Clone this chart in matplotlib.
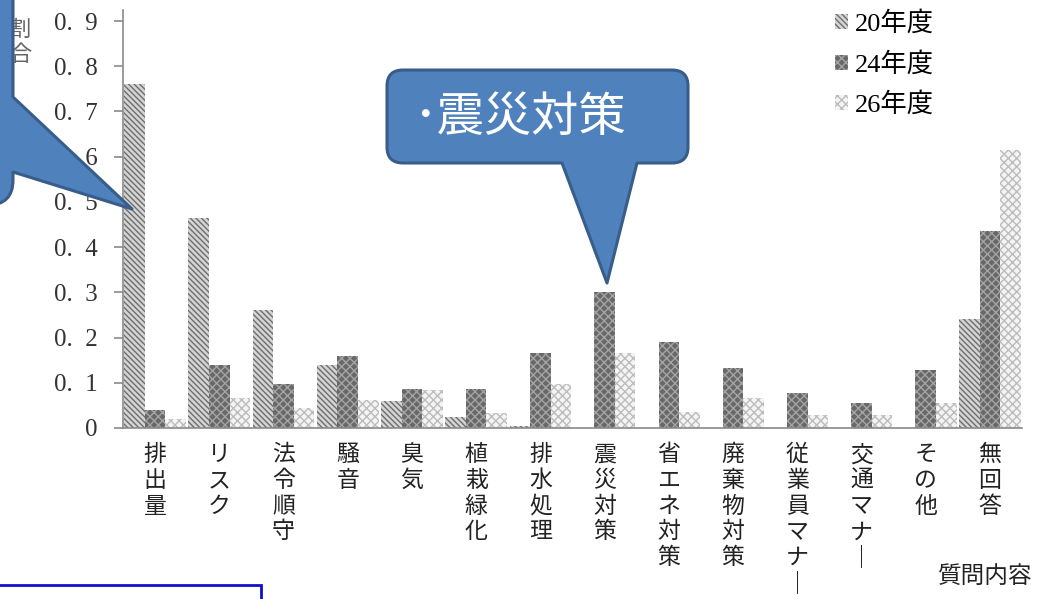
import numpy as np
import matplotlib
matplotlib.use("Agg")
import matplotlib.pyplot as plt
from matplotlib.path import Path
from matplotlib.patches import PathPatch, Rectangle, Patch
from matplotlib.transforms import Affine2D

plt.rcParams['font.family'] = ['Noto Sans CJK JP', 'DejaVu Sans']
plt.rcParams['hatch.linewidth'] = 1.0

categories = ['排出量', 'リスク', '法令順守', '騒音', '臭気', '植栽緑化', '排水処理',
              '震災対策', '省エネ対策', '廃棄物対策', '従業員マナー', '交通マナー', 'その他', '無回答']
y20 = [0.76, 0.465, 0.26, 0.14, 0.06, 0.025, 0.004, 0, 0, 0, 0, 0, 0, 0.24]
y24 = [0.04, 0.14, 0.097, 0.16, 0.087, 0.087, 0.165, 0.30, 0.19, 0.133, 0.077, 0.055, 0.128, 0.435]
y26 = [0.02, 0.066, 0.044, 0.063, 0.083, 0.033, 0.098, 0.165, 0.035, 0.066, 0.029, 0.029, 0.055, 0.615]
series = ['20年度', '24年度', '26年度']
yticks = [0, 0.1, 0.2, 0.3, 0.4, 0.5, 0.6, 0.7, 0.8, 0.9]
ytick_labels = ['0', '0.  1', '0.  2', '0.  3', '0.  4', '0.  5', '0.  6', '0.  7', '0.  8', '0.  9']

W, H = 1037, 599
fig = plt.figure(figsize=(W / 100, H / 100), dpi=100)
ax = fig.add_axes([123 / W, 1 - 428 / H, 899 / W, (428 - 9.7) / H])

styles = [
    dict(facecolor='#d4d4d4', edgecolor='#6e6e6e', hatch='\\\\\\\\\\\\'),
    dict(facecolor='#686868', edgecolor='#a4a4a4', hatch='xxxx'),
    dict(facecolor='#f4f4f4', edgecolor='#bcbcbc', hatch='xxxx'),
]
x = np.arange(len(categories))
bw = 0.32
for k, vals in enumerate([y20, y24, y26]):
    ax.bar(x + (k - 1) * bw, vals, width=bw, linewidth=0, **styles[k])

ax.set_xlim(-0.5, 13.5)
ax.set_ylim(0, 0.925)
for s in ['top', 'right']:
    ax.spines[s].set_visible(False)
ax.spines['left'].set_color('#8a8a8a')
ax.spines['bottom'].set_color('#8a8a8a')
ax.spines['left'].set_linewidth(1.2)
ax.spines['bottom'].set_linewidth(1.2)

ax.set_yticks(yticks)
ax.set_yticklabels(ytick_labels, family=['Liberation Serif', 'DejaVu Serif'], fontsize=18, color='#333333')
ax.tick_params(axis='y', length=6.5, width=1.2, color='#8a8a8a', pad=12)
ax.set_xticks(x)
ax.set_xticklabels(['\n'.join(c.replace('ー', '｜')) for c in categories],
                   fontsize=16.5, linespacing=1.15, va='top', color='#222222')
ax.tick_params(axis='x', length=0, pad=11)

handles = [Patch(linewidth=0, **st) for st in styles]
fig.legend(handles, series, loc='upper left', bbox_to_anchor=(822 / W, 1 + 2 / H),
           frameon=False, handlelength=0.5, handleheight=0.5,
           handletextpad=0.25, labelspacing=0.6, borderpad=0,
           prop={'family': ['Liberation Serif', 'Noto Sans CJK JP'], 'size': 19})

fig.text(20 / W, 1 - 18 / H, '割\n合', fontsize=16, color='#666666', ha='center', va='top', linespacing=1.1)
fig.text(985 / W, 1 - 576 / H, '質問内容', fontsize=17, color='#222222', ha='center', va='center')

# pixel coordinates, origin top-left
px = Affine2D().scale(1 / W, -1 / H).translate(0, 1) + fig.transFigure


def callout(x0, y0, x1, y1, r, side, a, b, tip):
    v, c = [], []

    def mv(p):
        v.append(p); c.append(Path.MOVETO)

    def ln(p):
        v.append(p); c.append(Path.LINETO)

    def cv(ctrl, p):
        v.extend([ctrl, p]); c.extend([Path.CURVE3, Path.CURVE3])

    mv((x0 + r, y0))
    ln((x1 - r, y0))
    cv((x1, y0), (x1, y0 + r))
    if side == 'right':
        ln((x1, a)); ln(tip); ln((x1, b))
    ln((x1, y1 - r))
    cv((x1, y1), (x1 - r, y1))
    if side == 'bottom':
        ln((b, y1)); ln(tip); ln((a, y1))
    ln((x0 + r, y1))
    cv((x0, y1), (x0, y1 - r))
    ln((x0, y0 + r))
    cv((x0, y0), (x0 + r, y0))
    v.append((x0 + r, y0)); c.append(Path.CLOSEPOLY)
    return PathPatch(Path(v, c), transform=px, facecolor='#4f81bd', edgecolor='#385d8a',
                     linewidth=2.2, joinstyle='round', zorder=5)


fig.patches.append(callout(-300, -100, 13, 205, 25, 'right', 97, 172, (132, 209)))
fig.patches.append(callout(387, 70, 688, 163, 16, 'bottom', 562, 637, (607, 283)))
fig.text(413 / W, 1 - 118 / H, '･震災対策', fontsize=34, color='white', ha='left', va='center', zorder=6)

fig.patches.append(Rectangle((-5, 585), 266, 30, transform=px, fill=False,
                             edgecolor='#1010cc', linewidth=2, zorder=5))

fig.savefig('out.png', dpi=100)
